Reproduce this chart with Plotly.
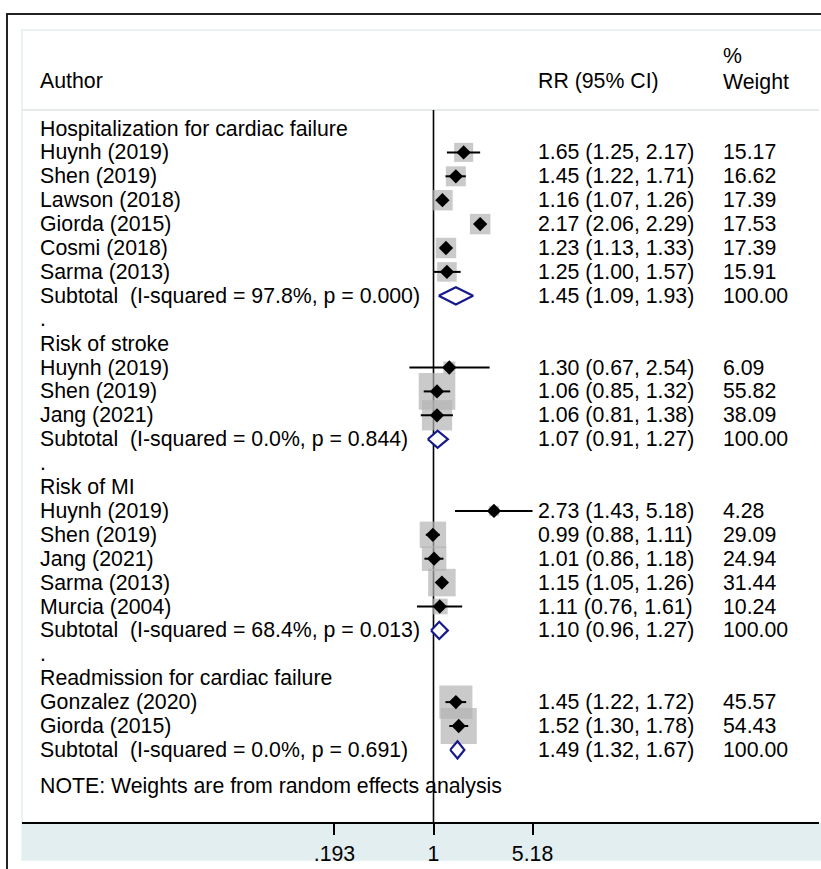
import math
import plotly.graph_objects as go

# ---------------- data ----------------
group_titles = ["Hospitalization for cardiac failure", "Risk of stroke",
                "Risk of MI", "Readmission for cardiac failure"]
authors = [
    ["Huynh (2019)", "Shen (2019)", "Lawson (2018)", "Giorda (2015)", "Cosmi (2018)", "Sarma (2013)"],
    ["Huynh (2019)", "Shen (2019)", "Jang (2021)"],
    ["Huynh (2019)", "Shen (2019)", "Jang (2021)", "Sarma (2013)", "Murcia (2004)"],
    ["Gonzalez (2020)", "Giorda (2015)"],
]
rr = [[1.65, 1.45, 1.16, 2.17, 1.23, 1.25], [1.30, 1.06, 1.06],
      [2.73, 0.99, 1.01, 1.15, 1.11], [1.45, 1.52]]
lci = [[1.25, 1.22, 1.07, 2.06, 1.13, 1.00], [0.67, 0.85, 0.81],
       [1.43, 0.88, 0.86, 1.05, 0.76], [1.22, 1.30]]
uci = [[2.17, 1.71, 1.26, 2.29, 1.33, 1.57], [2.54, 1.32, 1.38],
       [5.18, 1.11, 1.18, 1.26, 1.61], [1.72, 1.78]]
weights = [[15.17, 16.62, 17.39, 17.53, 17.39, 15.91], [6.09, 55.82, 38.09],
           [4.28, 29.09, 24.94, 31.44, 10.24], [45.57, 54.43]]
sub_rr = [1.45, 1.07, 1.10, 1.49]
sub_lci = [1.09, 0.91, 0.96, 1.32]
sub_uci = [1.93, 1.27, 1.27, 1.67]
sub_isq = ["97.8%", "0.0%", "68.4%", "0.0%"]
sub_p = ["0.000", "0.844", "0.013", "0.691"]
tick_vals = [0.193, 1, 5.18]
tick_text = [".193", "1", "5.18"]
note_text = "NOTE: Weights are from random effects analysis"

# ---------------- layout constants ----------------
W, H = 821, 869
ML, MR, MT, MB = 22, 2, 30, 47
PW, PH = W - ML - MR, H - MT - MB
FONT = "Liberation Sans, Arial, sans-serif"
FS = 21.3
NAVY = "#16198a"
BOXC = "#b3b3b3"

def px_x(p):  # pixel x -> paper
    return (p - ML) / PW

def px_y(p):  # pixel y -> paper
    return (H - MB - p) / PH

X_LABEL, X_EST, X_WT = px_x(38), px_x(536), px_x(721)

fig = go.Figure()
ann = []

def text(x, y, s, yref="y", size=FS):
    ann.append(dict(x=x, y=y, xref="paper", yref=yref, text=s, showarrow=False,
                    xanchor="left", yanchor="middle",
                    font=dict(family=FONT, size=size, color="black")))

box_x, box_y, box_s = [], [], []
ci_x, ci_y = [], []
pt_x, pt_y = [], []
diamonds = []

row = 0
for g in range(len(group_titles)):
    text(X_LABEL, row, group_titles[g])
    row += 1
    for i in range(len(authors[g])):
        text(X_LABEL, row, authors[g][i])
        text(X_EST, row, f"{rr[g][i]:.2f} ({lci[g][i]:.2f}, {uci[g][i]:.2f})")
        text(X_WT, row, f"{weights[g][i]:.2f}")
        box_x.append(rr[g][i]); box_y.append(row)
        box_s.append(4.9 * math.sqrt(weights[g][i]))
        ci_x += [lci[g][i], uci[g][i], None]; ci_y += [row, row, None]
        pt_x.append(rr[g][i]); pt_y.append(row)
        row += 1
    text(X_LABEL, row, f"Subtotal  (I-squared = {sub_isq[g]}, p = {sub_p[g]})")
    text(X_EST, row, f"{sub_rr[g]:.2f} ({sub_lci[g]:.2f}, {sub_uci[g]:.2f})")
    text(X_WT, row, "100.00")
    diamonds.append((sub_lci[g], sub_rr[g], sub_uci[g], row))
    row += 1
    if g < len(group_titles) - 1:
        text(X_LABEL, row - 0.02, ".")
        row += 1
last_row = row - 1
text(X_LABEL, last_row + 1.5, note_text)

# header
text(X_LABEL, px_y(81), "Author", yref="paper")
text(X_EST, px_y(81), "RR (95% CI)", yref="paper")
text(X_WT, px_y(56), "%", yref="paper")
text(X_WT, px_y(82), "Weight", yref="paper")

# traces
fig.add_trace(go.Scatter(x=box_x, y=box_y, mode="markers", hoverinfo="skip",
                         marker=dict(symbol="square", size=box_s, color=BOXC, line=dict(width=0))))
fig.add_trace(go.Scatter(x=ci_x, y=ci_y, mode="lines", hoverinfo="skip",
                         line=dict(color="black", width=2)))
fig.add_trace(go.Scatter(x=pt_x, y=pt_y, mode="markers", hoverinfo="skip",
                         marker=dict(symbol="diamond", size=11, color="black")))
for lo, est, hi, r in diamonds:
    fig.add_trace(go.Scatter(x=[lo, est, hi, est, lo], y=[r, r - 0.36, r, r + 0.36, r],
                             mode="lines", fill="toself", fillcolor="white",
                             line=dict(color=NAVY, width=2.2), hoverinfo="skip"))

# y scale: row 0 at pixel 128.5, 23.9 px per row
ROW0, STEP = 128.5, 23.9
y_top = (MT - ROW0) / STEP
y_bot = (H - MB - ROW0) / STEP
sep_row = (110 - ROW0) / STEP

# x scale: x=1 at pixel 433.5, 60.2 px per ln unit
X1, SC = 433.5, 60.2
x_lo = (ML - X1) / SC / math.log(10)
x_hi = (W - MR - X1) / SC / math.log(10)

shapes = [
    # light band below axis
    dict(type="rect", xref="paper", yref="paper", x0=0, x1=px_x(821), y0=px_y(860), y1=px_y(823),
         fillcolor="#e2eef0", line=dict(width=0), layer="below"),
    # faint panel outline
    dict(type="rect", xref="paper", yref="paper", x0=0, x1=px_x(823), y0=px_y(860), y1=1,
         fillcolor="rgba(0,0,0,0)", line=dict(color="#e4eff1", width=1.5), layer="below"),
    # header separator
    dict(type="line", xref="paper", yref="y", x0=0, x1=1, y0=sep_row, y1=sep_row,
         line=dict(color="#cfd6d8", width=1.2), layer="below"),
    # null line
    dict(type="line", xref="x", yref="y", x0=1, x1=1, y0=sep_row, y1=y_bot,
         line=dict(color="black", width=1.6), layer="below"),
    # outer black border (top, left)
    dict(type="line", xref="paper", yref="paper", x0=px_x(6), x1=px_x(823), y0=px_y(14), y1=px_y(14),
         line=dict(color="#222222", width=2)),
    dict(type="line", xref="paper", yref="paper", x0=px_x(7), x1=px_x(7), y0=px_y(14), y1=px_y(872),
         line=dict(color="#222222", width=2)),
]

fig.update_layout(
    width=W, height=H, margin=dict(l=ML, r=MR, t=MT, b=MB),
    paper_bgcolor="white", plot_bgcolor="white", showlegend=False,
    annotations=ann, shapes=shapes,
    xaxis=dict(type="log", range=[x_lo, x_hi], tickvals=tick_vals, ticktext=tick_text,
               showgrid=False, zeroline=False, showline=True, linecolor="black", linewidth=2,
               ticks="outside", ticklen=11, tickwidth=2, tickcolor="black",
               tickfont=dict(family=FONT, size=FS, color="black")),
    yaxis=dict(range=[y_bot, y_top], visible=False, showgrid=False, zeroline=False),
)

fig.write_html("out.html", config={"displayModeBar": False},
               post_script="document.body.style.margin='0';document.body.style.overflow='hidden';")
